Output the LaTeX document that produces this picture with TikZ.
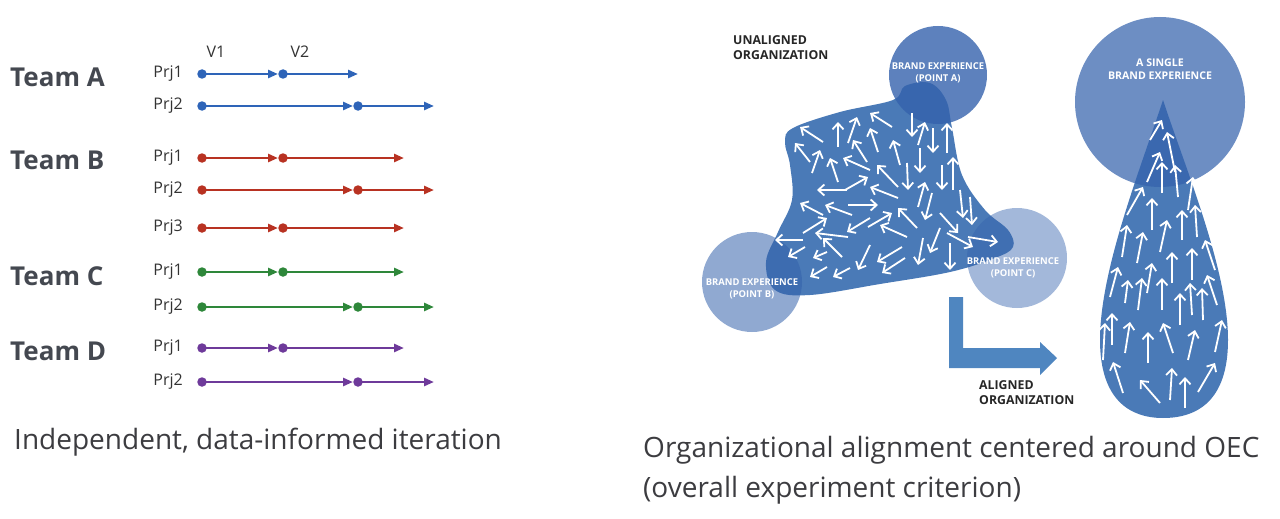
\documentclass[tikz,border=0pt]{standalone}
\usepackage{fontspec}
\setmainfont{Open Sans}
\usetikzlibrary{arrows.meta}
\definecolor{tblue}{RGB}{46,100,184}
\definecolor{tred}{RGB}{184,50,34}
\definecolor{tgreen}{RGB}{46,135,58}
\definecolor{tpurple}{RGB}{110,58,154}
\definecolor{txt}{RGB}{68,72,80}
\definecolor{cap}{RGB}{60,60,64}
\definecolor{blobc}{RGB}{74,122,183}
\definecolor{circc}{RGB}{52,98,172}
\definecolor{larrow}{RGB}{79,134,192}
\tikzset{
  rowline/.style={line width=2.6pt,draw=#1,-{Triangle[length=10pt,width=8pt]}},
  dotc/.style={circle,fill=#1,inner sep=0pt,minimum size=9.5pt},
  teamlbl/.style={anchor=west,font=\bfseries\fontsize{26}{30}\selectfont,text=txt,inner sep=0pt},
  prjlbl/.style={anchor=east,font=\fontsize{16}{19}\selectfont,text=black!80,inner sep=0pt},
  warrow/.style={draw=white,line width=1.8pt,-{Straight Barb[length=6pt,width=11pt]}},
  ctext/.style={text=white,font=\bfseries\fontsize{9.4}{11.5}\selectfont,align=center,inner sep=0pt},
  ctextb/.style={text=white,font=\bfseries\fontsize{10.6}{13}\selectfont,align=center,inner sep=0pt},
  blabel/.style={text=black!85,font=\bfseries\fontsize{12.3}{15}\selectfont,align=left,anchor=north west,inner sep=0pt},
  caption/.style={text=cap,font=\fontsize{28}{40}\selectfont,anchor=west,align=left,inner sep=0pt}
}
\newcommand\prjrow[5]{% name, y, colour, mid x, end x
  \coordinate (#1s) at (202,#2);
  \coordinate (#1m) at (#4,#2);
  \coordinate (#1e) at (#5,#2);
  \draw[rowline=#3,shorten >=5pt] (#1s) -- (#1m);
  \draw[rowline=#3] (#1m) -- (#1e);
  \node[dotc=#3] (#1ds) at (#1s) {};
  \node[dotc=#3] (#1dm) at (#1m) {};
}
\begin{document}
\begin{tikzpicture}[x=1pt,y=-1pt]
\useasboundingbox (0,0) rectangle (1280,519);
% ---------- left ----------
\node[font=\fontsize{16}{19}\selectfont,text=black!80] (v1) at (216,52) {V1};
\node[font=\fontsize{16}{19}\selectfont,text=black!80] (v2) at (300,52) {V2};
\node[teamlbl] (ta) at (10,77) {Team A};
\node[teamlbl] (tb) at (10,160) {Team B};
\node[teamlbl] (tc) at (10,276) {Team C};
\node[teamlbl] (td) at (10,351) {Team D};
\node[prjlbl] (pa1) at (183,74) {Prj1};
\node[prjlbl] (pa2) at (183,106) {Prj2};
\node[prjlbl] (pb1) at (183,158) {Prj1};
\node[prjlbl] (pb2) at (183,190) {Prj2};
\node[prjlbl] (pb3) at (183,228) {Prj3};
\node[prjlbl] (pc1) at (183,272) {Prj1};
\node[prjlbl] (pc2) at (183,307) {Prj2};
\node[prjlbl] (pd1) at (183,348) {Prj1};
\node[prjlbl] (pd2) at (183,382) {Prj2};
\prjrow{ra1}{74}{tblue}{283}{358}
\prjrow{ra2}{106}{tblue}{358}{434}
\prjrow{rb1}{158}{tred}{283}{404}
\prjrow{rb2}{190}{tred}{358}{434}
\prjrow{rb3}{228}{tred}{283}{404}
\prjrow{rc1}{272}{tgreen}{283}{404}
\prjrow{rc2}{307}{tgreen}{358}{434}
\prjrow{rd1}{348}{tpurple}{283}{404}
\prjrow{rd2}{382}{tpurple}{358}{434}
\node[caption] (cl) at (14,442) {Independent, data-informed iteration};
% ---------- right: unaligned ----------
\fill[blobc] plot[smooth cycle,tension=0.6] coordinates {(793,128) (840,112) (893,100) (905,86) (930,83) (946,100) (952,128) (962,175) (985,210) (1008,230) (1013,247) (995,258) (950,272) (880,284) (810,295) (775,290) (766,262) (778,232) (792,200) (790,165) (785,142)};
\fill[circc,fill opacity=0.8] (938,75) circle (49);
\fill[circc,fill opacity=0.55] (752,282) circle (50);
\fill[circc,fill opacity=0.45] (1017,258) circle (50);
\foreach \a/\b/\c/\d in {823/142/800/127, 810/162/795/143, 838/147/838/122, 848/143/857/117, 892/127/870/113, 878/152/870/128, 867/162/853/140, 812/173/820/150, 838/182/830/158, 870/170/843/158, 900/165/893/140, 912/113/912/137, 918/145/925/122, 933/128/933/153, 947/153/947/123, 920/148/920/173, 907/163/908/190, 898/187/877/165, 845/190/868/177, 847/190/817/190, 898/198/870/187, 918/207/925/182, 932/193/925/220, 942/165/942/190, 953/190/953/157, 960/190/963/218, 970/197/972/225, 852/215/825/205, 823/215/800/203, 848/205/878/205, 917/228/898/208, 803/233/827/218, 848/237/815/233, 870/218/847/232, 868/227/892/213, 907/237/880/225, 940/213/958/233, 803/240/775/240, 805/247/788/257, 842/257/823/238, 827/252/813/258, 827/267/810/277, 850/268/833/277, 870/245/858/270, 902/247/877/262, 905/258/882/273, 923/238/918/265, 940/228/930/253, 950/243/950/270, 947/233/973/247, 968/237/998/242}
  \draw[warrow] (\a,\b) -- (\c,\d);
\node[ctext] (ca) at (938,73) {BRAND EXPERIENCE\\(POINT A)};
\node[ctext] (cb) at (752,289) {BRAND EXPERIENCE\\(POINT B)};
\node[ctext] (cc) at (1013,268) {BRAND EXPERIENCE\\(POINT C)};
\node[blabel] (ul) at (733,35) {UNALIGNED\\ORGANIZATION};
% ---------- L arrow ----------
\fill[larrow] (949,297) -- (963,297) -- (963,348) -- (1040,348) -- (1040,342) -- (1057,358) -- (1040,375) -- (1040,368) -- (949,368) -- cycle;
\node[blabel] (al) at (979,380) {ALIGNED\\ORGANIZATION};
% ---------- right: aligned ----------
\fill[blobc] (1163,100) .. controls (1140,170) and (1100,270) .. (1100,340) .. controls (1100,400) and (1130,418) .. (1163,418) .. controls (1198,418) and (1228,400) .. (1228,340) .. controls (1228,270) and (1186,170) .. (1163,100) -- cycle;
\fill[circc,fill opacity=0.72] (1160,102) circle (85);
\foreach \a/\b/\c/\d in {1150/140/1162/120, 1175/172/1167/132, 1147/182/1160/152, 1162/193/1162/162, 1178/197/1175/165, 1188/210/1193/177, 1127/215/1143/187, 1152/230/1152/198, 1182/240/1182/210, 1197/237/1195/205, 1122/257/1127/225, 1137/263/1143/232, 1160/252/1167/220, 1215/270/1205/240, 1110/297/1118/267, 1147/293/1152/263, 1172/283/1172/252, 1192/280/1192/248, 1125/303/1128/280, 1138/310/1142/278, 1162/310/1162/278, 1180/325/1180/293, 1192/315/1190/283, 1203/320/1202/288, 1217/305/1207/275, 1103/360/1105/323, 1112/345/1112/313, 1125/353/1130/322, 1148/363/1148/332, 1173/353/1163/323, 1188/360/1195/330, 1215/352/1222/320, 1123/393/1113/362, 1160/403/1140/380, 1170/400/1172/368, 1185/408/1185/377, 1198/392/1215/363}
  \draw[warrow] (\a,\b) -- (\c,\d);
\node[ctextb] (cs) at (1160,69) {A SINGLE\\BRAND EXPERIENCE};
\node[caption] (cr) at (643,470) {Organizational alignment centered around OEC\\(overall experiment criterion)};
\end{tikzpicture}
\end{document}
